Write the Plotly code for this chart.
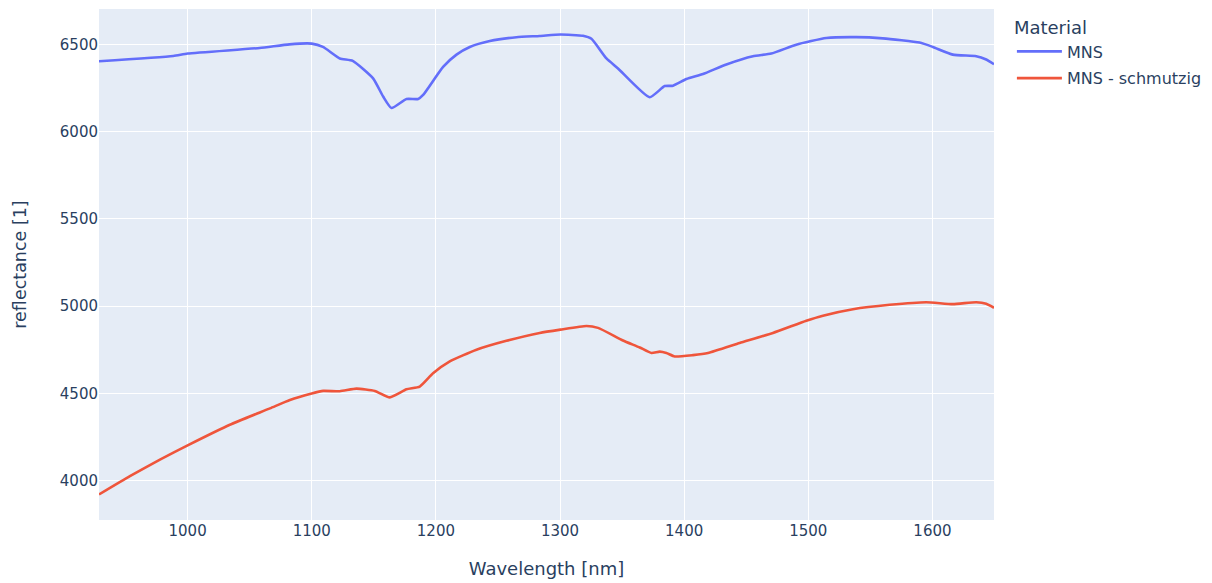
import plotly.graph_objects as go

# MNS (clean)
mns_wl = [928.6, 988.4, 1000, 1058, 1082, 1100, 1109, 1122.6, 1133, 1149.4, 1157.5, 1164.2,
          1176.3, 1185.7, 1189.7, 1205.8, 1216.6, 1227.3, 1243.4, 1264.9, 1283.6, 1300.3,
          1318.5, 1325.3, 1337.4, 1346.7, 1372.2, 1384.3, 1391, 1401.8, 1415.2, 1434,
          1455.4, 1470.2, 1490.3, 1514.5, 1538.6, 1560, 1589.6, 1600.3, 1616.4, 1635.3,
          1643.3, 1649.6]
mns_val = [6403, 6433, 6447, 6479, 6500, 6504, 6485, 6419, 6405, 6305, 6201, 6135,
           6187, 6187, 6210, 6371, 6441, 6485, 6519, 6541, 6548, 6556,
           6549, 6532, 6419, 6362, 6197, 6261, 6263, 6301, 6330, 6385,
           6432, 6447, 6498, 6536, 6541, 6534, 6510, 6485, 6441, 6432,
           6413, 6386]

# MNS - schmutzig (dirty)
dirty_wl = [928.6, 953.5, 977.7, 1000, 1034, 1066.3, 1082.4, 1100, 1109.2, 1122.6, 1136,
            1150.8, 1162.9, 1176.3, 1187, 1197.7, 1211.2, 1232.7, 1256.8, 1283.6, 1300.3,
            1321.3, 1330.6, 1350.7, 1364.2, 1373.6, 1380.3, 1385.7, 1392.4, 1407.1, 1419.2,
            1444.7, 1471.5, 1498.4, 1511.8, 1536, 1565.5, 1595, 1616.4, 1635.3, 1643.3, 1649.6]
dirty_val = [3922, 4027, 4122, 4203, 4321, 4415, 4463, 4500, 4515, 4513, 4528,
             4515, 4478, 4524, 4540, 4616, 4684, 4751, 4802, 4847, 4866,
             4887, 4876, 4804, 4764, 4732, 4740, 4732, 4712, 4720, 4732,
             4789, 4847, 4917, 4946, 4983, 5008, 5023, 5012, 5023, 5014, 4991]

FONT = "DejaVu Sans, Verdana, sans-serif"

fig = go.Figure()
fig.add_trace(go.Scatter(x=mns_wl, y=mns_val, mode="lines", name="MNS", legendgroup="a",
                         line=dict(color="#636efa", width=2.6, shape="spline", smoothing=0.5)))
fig.add_trace(go.Scatter(x=dirty_wl, y=dirty_val, mode="lines", name="MNS - schmutzig",
                         legendgroup="b",
                         line=dict(color="#EF553B", width=2.6, shape="spline", smoothing=0.5)))

fig.update_layout(
    template="plotly",
    width=1212, height=583,
    margin=dict(l=91, r=226, t=1, b=71),
    font=dict(family=FONT, size=15, color="#2a3f5f"),
    legend=dict(title=dict(text="Material", font=dict(size=18)), font=dict(size=16),
                itemwidth=45, tracegroupgap=3, y=0.996),
    xaxis=dict(title=dict(text="Wavelength [nm]", font=dict(size=18), standoff=23),
               gridwidth=1.3),
    yaxis=dict(title=dict(text="reflectance [1]", font=dict(size=17.5), standoff=28),
               gridwidth=1.3),
)

fig.write_html("out.html")
